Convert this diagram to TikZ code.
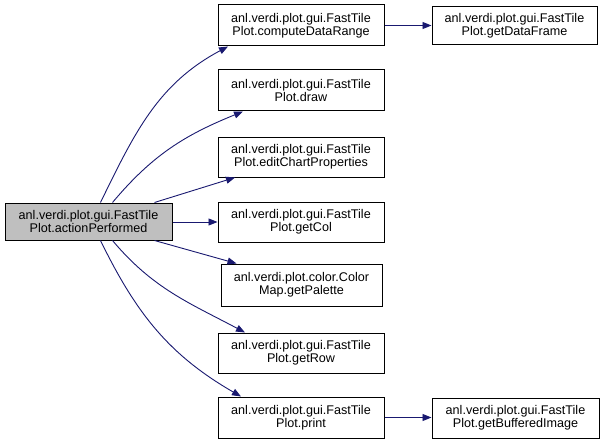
\documentclass[tikz,border=0pt]{standalone}
\usepackage{fontspec}
\setmainfont{Liberation Sans}
\usepackage{tikz}
\usetikzlibrary{arrows.meta}
\definecolor{edgeblue}{RGB}{25,25,112}
\definecolor{callgray}{RGB}{191,191,191}

\begin{document}
\begin{tikzpicture}[x=1pt, y=-1pt, >={Triangle[length=9pt,width=7pt]},
  fn/.style={draw=black, line width=1pt, minimum width=166pt, minimum height=41pt,
             inner sep=0pt, align=center, font=\fontsize{12.6}{12.6}\selectfont},
  edge/.style={->, draw=edgeblue, line width=0.9pt}]
  \useasboundingbox (0,0) rectangle (603,444);
  % caller
  \node (act) [fn, fill=callgray, minimum width=167pt, minimum height=37pt] at (88.5,221.5)
    {anl.verdi.plot.gui.FastTile\\Plot.actionPerformed};
  % callees
  \node (cdr) [fn] at (301,25.5) {anl.verdi.plot.gui.FastTile\\Plot.computeDataRange};
  \node (drw) [fn] at (301,90.5) {anl.verdi.plot.gui.FastTile\\Plot.draw};
  \node (ecp) [fn, minimum height=40pt] at (301,157) {anl.verdi.plot.gui.FastTile\\Plot.editChartProperties};
  \node (gcl) [fn, minimum height=40pt] at (301,222) {anl.verdi.plot.gui.FastTile\\Plot.getCol};
  \node (pal) [fn, minimum width=161pt, minimum height=42pt] at (301.5,285) {anl.verdi.plot.color.Color\\Map.getPalette};
  \node (grw) [fn, minimum height=40pt] at (301,353) {anl.verdi.plot.gui.FastTile\\Plot.getRow};
  \node (prt) [fn] at (301,417.5) {anl.verdi.plot.gui.FastTile\\Plot.print};
  \node (gdf) [fn, minimum width=165pt, minimum height=38pt] at (514.5,26) {anl.verdi.plot.gui.FastTile\\Plot.getDataFrame};
  \node (gbi) [fn, minimum width=167pt, minimum height=40pt] at (515.5,418) {anl.verdi.plot.gui.FastTile\\Plot.getBufferedImage};
  % calls
  \draw[edge] ([xshift=12pt]act.north) to[out=64, in=208] ([xshift=-73pt]cdr.south);
  \draw[edge] ([xshift=24pt]act.north) to[out=50, in=202] ([xshift=-58pt]drw.south);
  \draw[edge] ([xshift=66pt]act.north) -- ([xshift=-66pt]ecp.south);
  \draw[edge] (act.east |- gcl.west) -- (gcl.west);
  \draw[edge] ([xshift=66pt]act.south) -- ([xshift=-65pt]pal.north);
  \draw[edge] ([xshift=24pt]act.south) to[out=-50, in=152] ([xshift=-56pt]grw.north);
  \draw[edge] ([xshift=12pt]act.south) to[out=-64, in=150] ([xshift=-60pt]prt.north);
  \draw[edge] (cdr.east) -- (cdr.east -| gdf.west);
  \draw[edge] (prt.east) -- (prt.east -| gbi.west);
\end{tikzpicture}
\end{document}
